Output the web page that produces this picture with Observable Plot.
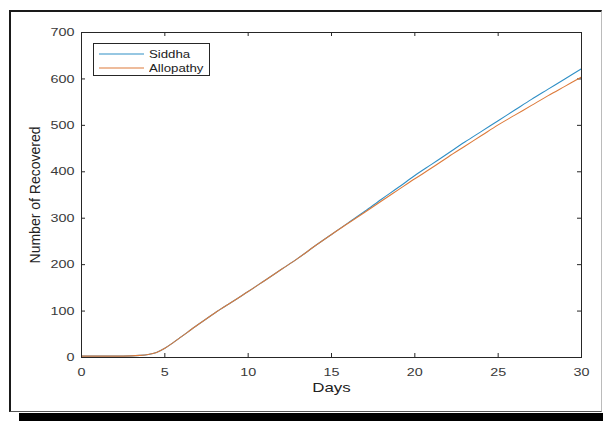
<!DOCTYPE html>
<html>
<head>
<meta charset="utf-8">
<script src="https://cdn.jsdelivr.net/npm/d3@7"></script>
<script src="https://cdn.jsdelivr.net/npm/@observablehq/plot@0.6"></script>
<style>
  html, body { margin: 0; padding: 0; background: #fff; }
  #wrap { position: relative; width: 603px; height: 421px; overflow: hidden; background: #fff; }
  #border { position: absolute; left: 9px; top: 10px; width: 590px; height: 399px;
            border-left: 2px solid #1a1a1a; border-top: 2px solid #1a1a1a;
            border-bottom: 1.5px solid #555; border-right: 1px solid #bbb; }
  #shadow { position: absolute; left: 19px; top: 413px; width: 584px; height: 8px; background: #000; }
  #chart { position: absolute; left: 0; top: 0; }
  #legend { position: absolute; left: 93px; top: 43px; width: 115px; height: 31px;
            border: 1px solid #262626; background: #fff; font-family: "Liberation Sans", Arial, sans-serif;
            font-size: 11.5px; color: #222; }
  .lrow { position: absolute; left: 0; height: 14px; width: 115px; }
  .lrow svg { position: absolute; left: 4px; top: 0; }
  .lrow span { position: absolute; left: 55px; top: 0; line-height: 14px; display: inline-block;
               transform: scaleX(1.15); transform-origin: left center; white-space: nowrap; }
</style>
</head>
<body>
<div id="wrap">
  <div id="border"></div>
  <div id="shadow"></div>
  <div id="chart"></div>
  <div id="legend"></div>
</div>
<script>
// ---- data ----
const days = [0, 1, 2, 3, 3.5, 4, 4.5, 5, 5.5, 6, 7, 8, 9, 10, 11, 12, 13, 14, 15, 16, 17, 18, 19, 20, 21, 22, 23, 24, 25, 26, 27, 28, 29, 30];
const siddha = [3, 3, 3, 3.5, 4.5, 6.5, 11, 20, 32, 45, 71, 96, 119, 142, 166, 190, 214, 240, 265, 290, 315, 341, 366, 392, 416, 440, 464, 487, 510, 533, 556, 578, 600, 622];
const allopathy = [3, 3, 3, 3.5, 4.5, 6.5, 11, 20, 32, 45, 71, 96, 119, 142, 166, 190, 214, 240, 265, 289, 313, 337, 361, 385, 408, 432, 455, 478, 501, 522, 543, 564, 584, 604];
const seriesNames = ["Siddha", "Allopathy"];
const seriesColors = ["#2f8fc6", "#dd7a3a"];
const xTicks = [0, 5, 10, 15, 20, 25, 30];
const yTicks = [0, 100, 200, 300, 400, 500, 600, 700];
const xLabel = "Days";
const yLabel = "Number of Recovered";

const W = 603, H = 421;
const mL = 81, mR = 22, mT = 32, mB = 64;
const xDom = [0, 30], yDom = [0, 700];
const tickPx = 4;
const tickY = tickPx / (H - mT - mB) * (yDom[1] - yDom[0]);
const tickX = tickPx / (W - mL - mR) * (xDom[1] - xDom[0]);
const axisColor = "#262626";

const rowsS = days.map((d, i) => ({day: d, v: siddha[i]}));
const rowsA = days.map((d, i) => ({day: d, v: allopathy[i]}));

const chart = Plot.plot({
  width: W, height: H,
  marginLeft: mL, marginRight: mR, marginTop: mT, marginBottom: mB,
  x: {domain: xDom},
  y: {domain: yDom},
  style: {fontFamily: "Liberation Sans, Arial, sans-serif", fontSize: "11px", color: "#333", background: "transparent"},
  marks: [
    Plot.axisX(xTicks, {tickSize: 0, tickPadding: 10, label: null, fontSize: 11.5, fill: "#3a3a3a"}),
    Plot.axisY(yTicks, {tickSize: 0, tickPadding: 7, label: null, fontSize: 11.5, fill: "#3a3a3a"}),
    // inward ticks on all four sides
    Plot.ruleX(xTicks, {x: d => d, y1: yDom[0], y2: yDom[0] + tickY, stroke: axisColor}),
    Plot.ruleX(xTicks, {x: d => d, y1: yDom[1] - tickY, y2: yDom[1], stroke: axisColor}),
    Plot.ruleY(yTicks, {y: d => d, x1: xDom[0], x2: xDom[0] + tickX, stroke: axisColor}),
    Plot.ruleY(yTicks, {y: d => d, x1: xDom[1] - tickX, x2: xDom[1], stroke: axisColor}),
    Plot.line(rowsS, {x: "day", y: "v", stroke: seriesColors[0], strokeWidth: 1.1, curve: "monotone-x"}),
    Plot.line(rowsA, {x: "day", y: "v", stroke: seriesColors[1], strokeWidth: 1.1, curve: "monotone-x"}),
    Plot.frame({stroke: axisColor, strokeWidth: 1}),
    Plot.text([xLabel], {frameAnchor: "bottom", dy: 34, fontSize: 13.5, fill: "#222"}),
    Plot.text([yLabel], {frameAnchor: "left", dx: -46, rotate: -90, textAnchor: "middle", fontSize: 14, fill: "#222"})
  ]
});
document.getElementById("chart").appendChild(chart);

// the reference figure is stretched horizontally: widen horizontal text a little
chart.querySelectorAll("text").forEach(t => {
  const tr = t.getAttribute("transform") || "";
  if (tr.includes("rotate")) return;
  const xa = t.getAttribute("x");
  const x = (xa && /^-?[\d.]+$/.test(xa)) ? +xa : 0;
  t.setAttribute("transform", `${tr} translate(${x},0) scale(1.25,1) translate(${-x},0)`.trim());
});

// legend
const legend = document.getElementById("legend");
seriesNames.forEach((name, i) => {
  const row = document.createElement("div");
  row.className = "lrow";
  row.style.top = (3 + i * 14) + "px";
  row.innerHTML = `<svg width="48" height="14"><line x1="1" x2="46" y1="7" y2="7" stroke="${seriesColors[i]}" stroke-width="1.1"/></svg><span>${name}</span>`;
  legend.appendChild(row);
});
</script>
</body>
</html>
